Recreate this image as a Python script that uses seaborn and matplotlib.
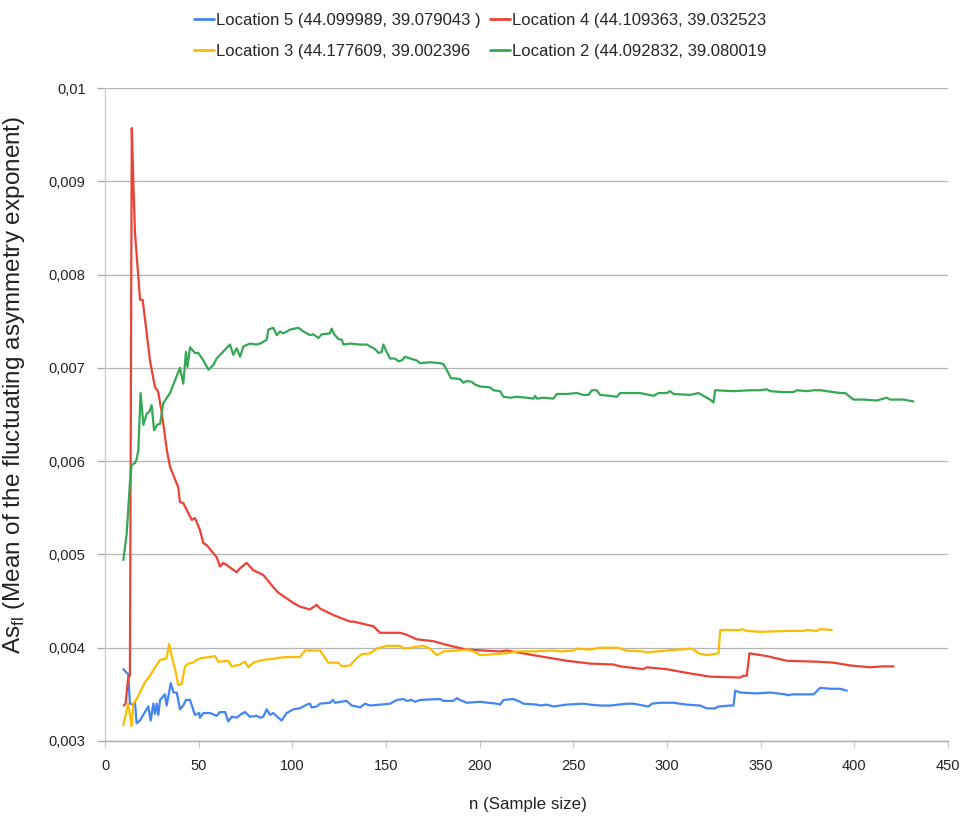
import numpy as np
import pandas as pd
import matplotlib
matplotlib.use("Agg")
import matplotlib.pyplot as plt
import seaborn as sns
from matplotlib import font_manager
from matplotlib.ticker import FixedLocator, FuncFormatter

# ---------------- data ----------------
labels = [
    "Location 5 (44.099989, 39.079043 )",
    "Location 4 (44.109363, 39.032523",
    "Location 3 (44.177609, 39.002396",
    "Location 2 (44.092832, 39.080019",
]
colors = ["#4285F4", "#EA4335", "#FBBC04", "#34A853"]

loc5_n = [9.8, 11.6, 12.4, 13.3, 15.1, 16, 16.9, 18.7, 20.4, 23.1, 24.4, 25.8, 26.7, 27.6, 28.5, 29.4,
          31.1, 32, 32.9, 35.1, 36.5, 38.3, 40, 41.8, 43.2, 45.4, 48, 50.3, 50.7, 52.5, 56.1, 59.6,
          61.4, 64.1, 65.8, 67.6, 70.3, 72.1, 74.7, 77.4, 81, 82.8, 84.5, 86.3, 88.1, 89.8, 92.5,
          94.3, 97, 100.5, 104.1, 107.7, 109.4, 110.3, 113, 114.8, 120.1, 121.6, 122.8, 129,
          131.7, 134.4, 136.1, 138.8, 141.5, 152.2, 155.7, 159.3, 161.1, 163.7, 165.5, 168.2,
          178.9, 180.6, 186, 187.8, 189.5, 193.1, 200.2, 209.1, 210.9, 212.7, 218, 221.6, 223.4,
          230.5, 232.3, 235.8, 239.4, 246.5, 255.4, 258.9, 264.3, 269.6, 278.6, 282.1, 287.4,
          290.1, 291.9, 296.3, 303.4, 307, 310.5, 317.7, 321.2, 325.7, 327.5, 333.7, 335.5,
          336.4, 339, 347.9, 355.1, 363.1, 364.9, 366.7, 378.2, 381.8, 387.1, 392.4, 396]
loc5_v = [0.00377, 0.00373, 0.00372, 0.0034, 0.00339, 0.00341, 0.00319, 0.00322, 0.00328, 0.00337,
          0.00322, 0.0034, 0.00329, 0.0034, 0.00328, 0.00344, 0.00348, 0.0035, 0.00338, 0.00362,
          0.00352, 0.00352, 0.00334, 0.00338, 0.00344, 0.00344, 0.00328, 0.0033, 0.00325, 0.0033,
          0.0033, 0.00327, 0.00331, 0.00331, 0.00321, 0.00326, 0.00325, 0.00328, 0.00331, 0.00326,
          0.00327, 0.00325, 0.00326, 0.00334, 0.00328, 0.0033, 0.00325, 0.00322, 0.0033, 0.00334,
          0.00335, 0.00339, 0.0034, 0.00336, 0.00337, 0.0034, 0.00341, 0.00344, 0.00341, 0.00343,
          0.00338, 0.00337, 0.00336, 0.0034, 0.00338, 0.0034, 0.00344, 0.00345, 0.00343, 0.00344,
          0.00342, 0.00344, 0.00345, 0.00343, 0.00343, 0.00346, 0.00344, 0.00341, 0.00342, 0.0034,
          0.00339, 0.00344, 0.00345, 0.00342, 0.0034, 0.00339, 0.00338, 0.00339, 0.00337, 0.00339,
          0.0034, 0.00339, 0.00338, 0.00338, 0.0034, 0.0034, 0.00338, 0.00337, 0.0034, 0.00341,
          0.00341, 0.0034, 0.00339, 0.00338, 0.00335, 0.00335, 0.00337, 0.00338, 0.00338, 0.00354,
          0.00352, 0.00351, 0.00352, 0.0035, 0.00349, 0.0035, 0.0035, 0.00357, 0.00356, 0.00356,
          0.00354]

loc4_n = [10, 11, 12.4, 13.3, 14.3, 15.1, 16, 18.7, 20.1, 24, 26.7, 28, 28.5, 30.3, 33, 34.7, 39.1,
          40, 41.8, 46.3, 48, 50.7, 52.5, 54.3, 59.6, 61.4, 63.2, 70.3, 72, 75.6, 79.2, 84.5, 89.8,
          92.5, 100.5, 104.1, 109.4, 113, 114.8, 121.9, 130.8, 132.6, 143.3, 146.8, 150.4, 154,
          157.5, 161, 166.4, 175.3, 182.4, 193.1, 202, 210.9, 214.5, 228.7, 237.6, 246.5, 258.9,
          271.5, 275, 287.4, 289.2, 299.9, 310.6, 323, 339, 340.8, 342.6, 344, 353.3, 364, 380,
          388.9, 397.8, 408.4, 415.5, 420.9]
loc4_v = [0.00338, 0.0034, 0.00368, 0.0037, 0.00957, 0.00901, 0.00845, 0.00773, 0.00773, 0.00708,
          0.00679, 0.00676, 0.00673, 0.00652, 0.00612, 0.00594, 0.00572, 0.00556, 0.00555, 0.00537,
          0.00539, 0.00526, 0.00512, 0.0051, 0.00497, 0.00487, 0.00491, 0.00481, 0.00485, 0.00491,
          0.00483, 0.00478, 0.00465, 0.00459, 0.00448, 0.00444, 0.00441, 0.00446, 0.00442, 0.00435,
          0.00428, 0.00428, 0.00423, 0.00416, 0.00416, 0.00416, 0.00416, 0.00414, 0.00409, 0.00407,
          0.00403, 0.00398, 0.00397, 0.00396, 0.00397, 0.00392, 0.00389, 0.00386, 0.00383, 0.00382,
          0.0038, 0.00377, 0.00379, 0.00377, 0.00373, 0.00369, 0.00368, 0.0037, 0.0037, 0.00394,
          0.00391, 0.00386, 0.00385, 0.00384, 0.00381, 0.00379, 0.0038, 0.0038]

loc3_n = [9.8, 12.4, 14.2, 15.1, 16.9, 19.6, 21.4, 24, 26.7, 29.4, 32, 32.9, 34.2, 35.6, 37.4, 39.1,
          40.9, 42.7, 44.5, 47.1, 48.9, 51.6, 56.1, 58.7, 60.5, 65.8, 67.6, 72.1, 74.7, 76.5, 79.2,
          84.5, 89.8, 91.7, 97, 104.1, 106.8, 114.8, 119.2, 124.6, 126.4, 130.8, 133.5, 137, 141.5,
          145, 150.4, 157.5, 159.3, 166.4, 170, 173.5, 177.1, 180.7, 187.8, 193.1, 196.7, 200.2,
          207.3, 214.5, 219.8, 228.7, 239.4, 242.9, 250, 251.8, 258.9, 264.3, 274.1, 277.7, 287.4,
          289.3, 299.9, 313.2, 315, 316.8, 321.2, 327.5, 328.4, 339, 340, 342.6, 349.7, 364, 372.8,
          374.6, 380, 381.8, 388]
loc3_v = [0.00317, 0.0034, 0.00316, 0.0034, 0.00345, 0.00356, 0.00363, 0.0037, 0.00379, 0.00387,
          0.00388, 0.00389, 0.00404, 0.00391, 0.00377, 0.0036, 0.00361, 0.0038, 0.00383, 0.00384,
          0.00387, 0.00389, 0.0039, 0.00391, 0.00385, 0.00386, 0.0038, 0.00382, 0.00385, 0.00379,
          0.00384, 0.00387, 0.00388, 0.00389, 0.0039, 0.0039, 0.00397, 0.00397, 0.00384, 0.00384,
          0.0038, 0.00381, 0.00387, 0.00393, 0.00394, 0.00399, 0.00402, 0.00402, 0.00399, 0.00401,
          0.00402, 0.00399, 0.00392, 0.00396, 0.00397, 0.00398, 0.00396, 0.00392, 0.00393, 0.00394,
          0.00396, 0.00396, 0.00397, 0.00396, 0.00397, 0.00399, 0.00398, 0.004, 0.004, 0.00397,
          0.00396, 0.00395, 0.00397, 0.00399, 0.00397, 0.00394, 0.00392, 0.00394, 0.00419, 0.00419,
          0.0042, 0.00418, 0.00417, 0.00418, 0.00418, 0.00419, 0.00418, 0.0042, 0.00419]

loc2_n = [9.8, 11.6, 13.3, 14.2, 16, 16.9, 17.8, 19, 20.5, 22.3, 23.7, 24.9, 26.2, 27.9, 29.4, 31.1,
          34.7, 40, 41.8, 43.2, 44, 45.4, 48, 49.8, 52.5, 55.2, 57.8, 59.6, 66.7, 68.5, 70.3, 72.1,
          73.9, 77.4, 81, 82.8, 86.3, 87.2, 89.8, 91.7, 93.4, 95.2, 98.8, 103.2, 105.9, 109.4,
          111.2, 113.9, 115.7, 120.1, 121, 122.3, 124.6, 126.4, 127.3, 130.8, 136.1, 139.7, 144.2,
          146, 147.7, 148.6, 150.4, 152.2, 154.8, 156.6, 158.4, 160.2, 162.8, 166.4, 168.2, 173.5,
          178.9, 180.6, 182.4, 184.6, 189.5, 191.3, 193.1, 195.8, 197.6, 200.2, 205.6, 207.3,
          210.9, 212.7, 216.2, 219.8, 225.2, 228.7, 229.6, 230.5, 234, 239.4, 241.2, 246.5, 251.9,
          255.4, 258.1, 259.9, 262.5, 264.3, 269.6, 273.2, 275, 282.1, 285.7, 292.8, 295.5, 299.9,
          301.7, 303.5, 312.4, 316.8, 323, 324.8, 325.7, 335.5, 344.4, 349.7, 353.3, 355.1, 362.2,
          367.5, 369.3, 374.7, 378.2, 381.8, 392.4, 395.1, 399.5, 404.9, 412, 415.6, 417.3, 419.1,
          424.5, 426.2, 431.5]
loc2_v = [0.00494, 0.00523, 0.00577, 0.00596, 0.00598, 0.00602, 0.00612, 0.00673, 0.00639, 0.00651,
          0.00653, 0.0066, 0.00633, 0.00639, 0.0064, 0.00662, 0.00673, 0.007, 0.00683, 0.00717,
          0.00701, 0.00722, 0.00716, 0.00716, 0.00708, 0.00698, 0.00703, 0.0071, 0.00725, 0.00714,
          0.00721, 0.00712, 0.00723, 0.00726, 0.00725, 0.00726, 0.0073, 0.00741, 0.00743, 0.00735,
          0.00739, 0.00737, 0.00741, 0.00743, 0.00739, 0.00735, 0.00736, 0.00732, 0.00736, 0.00737,
          0.00742, 0.00736, 0.00731, 0.0073, 0.00725, 0.00726, 0.00725, 0.00725, 0.0072, 0.00716,
          0.00717, 0.00725, 0.00717, 0.0071, 0.0071, 0.00707, 0.00708, 0.00712, 0.0071, 0.00708,
          0.00705, 0.00706, 0.00705, 0.00704, 0.00698, 0.00689, 0.00688, 0.00684, 0.00686, 0.00685,
          0.00682, 0.0068, 0.00679, 0.00676, 0.00675, 0.00669, 0.00668, 0.00669, 0.00668, 0.00667,
          0.0067, 0.00667, 0.00668, 0.00667, 0.00672, 0.00672, 0.00673, 0.00671, 0.00671, 0.00676,
          0.00676, 0.00671, 0.0067, 0.00669, 0.00673, 0.00673, 0.00673, 0.0067, 0.00673, 0.00673,
          0.00675, 0.00672, 0.00671, 0.00673, 0.00666, 0.00663, 0.00676, 0.00675, 0.00676, 0.00676,
          0.00677, 0.00675, 0.00674, 0.00674, 0.00676, 0.00675, 0.00676, 0.00676, 0.00673, 0.00673,
          0.00666, 0.00666, 0.00665, 0.00667, 0.00668, 0.00666, 0.00666, 0.00666, 0.00664]

x_ticks = [0, 50, 100, 150, 200, 250, 300, 350, 400, 450]
y_ticks = [0.003, 0.004, 0.005, 0.006, 0.007, 0.008, 0.009, 0.010]

# ---------------- styling ----------------
sns.set_theme(style="white")
names = {f.name for f in font_manager.fontManager.ttflist}
if "Liberation Sans Narrow" in names:
    txt_font = ["Liberation Sans Narrow", "Liberation Sans", "DejaVu Sans"]
    k = 1.19
else:
    txt_font = ["Liberation Sans", "DejaVu Sans"]
    k = 1.0
plt.rcParams["font.family"] = txt_font

fig = plt.figure(figsize=(9.66, 8.23), dpi=100)
ax = fig.add_axes([105 / 966, 1 - 741 / 823, (948 - 105) / 966, (741 - 88) / 823])

frames = []
for lab, n, v in zip(labels, [loc5_n, loc4_n, loc3_n, loc2_n], [loc5_v, loc4_v, loc3_v, loc2_v]):
    frames.append(pd.DataFrame({"n": n, "value": v, "location": lab}))
df = pd.concat(frames, ignore_index=True)

sns.lineplot(data=df, x="n", y="value", hue="location", hue_order=labels,
             palette=dict(zip(labels, colors)), estimator=None, sort=False,
             linewidth=1.6, ax=ax, legend=True)

handles, labs = ax.get_legend_handles_labels()
ax.get_legend().remove()
hmap = dict(zip(labs, handles))
order = [labels[0], labels[2], labels[1], labels[3]]
leg = fig.legend([hmap[l] for l in order], order, loc="center",
                 bbox_to_anchor=(0.497, 1 - 36 / 823), ncol=2, frameon=False,
                 fontsize=12 * k, handlelength=1.2, handletextpad=0.12,
                 columnspacing=0.55, labelspacing=0.95)
for line in leg.get_lines():
    line.set_linewidth(2.0)

ax.set_xlim(0, 450)
ax.set_ylim(0.003, 0.010)
ax.xaxis.set_major_locator(FixedLocator(x_ticks))
ax.yaxis.set_major_locator(FixedLocator(y_ticks))
ax.xaxis.set_major_formatter(FuncFormatter(lambda v, p: f"{int(v)}"))
ax.yaxis.set_major_formatter(
    FuncFormatter(lambda v, p: f"{v:.3f}".rstrip("0").replace(".", ",")))

ax.yaxis.grid(True, color="#b4b4b4", linewidth=0.9)
ax.xaxis.grid(False)
for s in ["top", "right"]:
    ax.spines[s].set_visible(False)
ax.spines["left"].set_color("#cccccc")
ax.spines["bottom"].set_color("#aaaaaa")
ax.spines["left"].set_linewidth(1.0)
ax.spines["bottom"].set_linewidth(1.0)

ax.tick_params(axis="y", left=True, length=6, width=0.9, color="#aaaaaa",
               pad=8, labelsize=10.5 * k, labelcolor="#222222")
ax.tick_params(axis="x", bottom=True, length=5, width=0.9, color="#cccccc",
               pad=8, labelsize=10.5 * k, labelcolor="#222222")

ax.set_xlabel("n (Sample size)", fontsize=12.2 * k, color="#222222")
ax.xaxis.set_label_coords(0.502, -0.085)
ax.set_ylabel(r"As$_{\mathregular{fl}}$ (Mean of the fluctuating asymmetry exponent)",
              fontsize=17.5, color="#222222", family=["Liberation Sans", "DejaVu Sans"])
ax.yaxis.set_label_coords(-0.093, 0.545)

fig.savefig("out.png", dpi=100, facecolor="white")
